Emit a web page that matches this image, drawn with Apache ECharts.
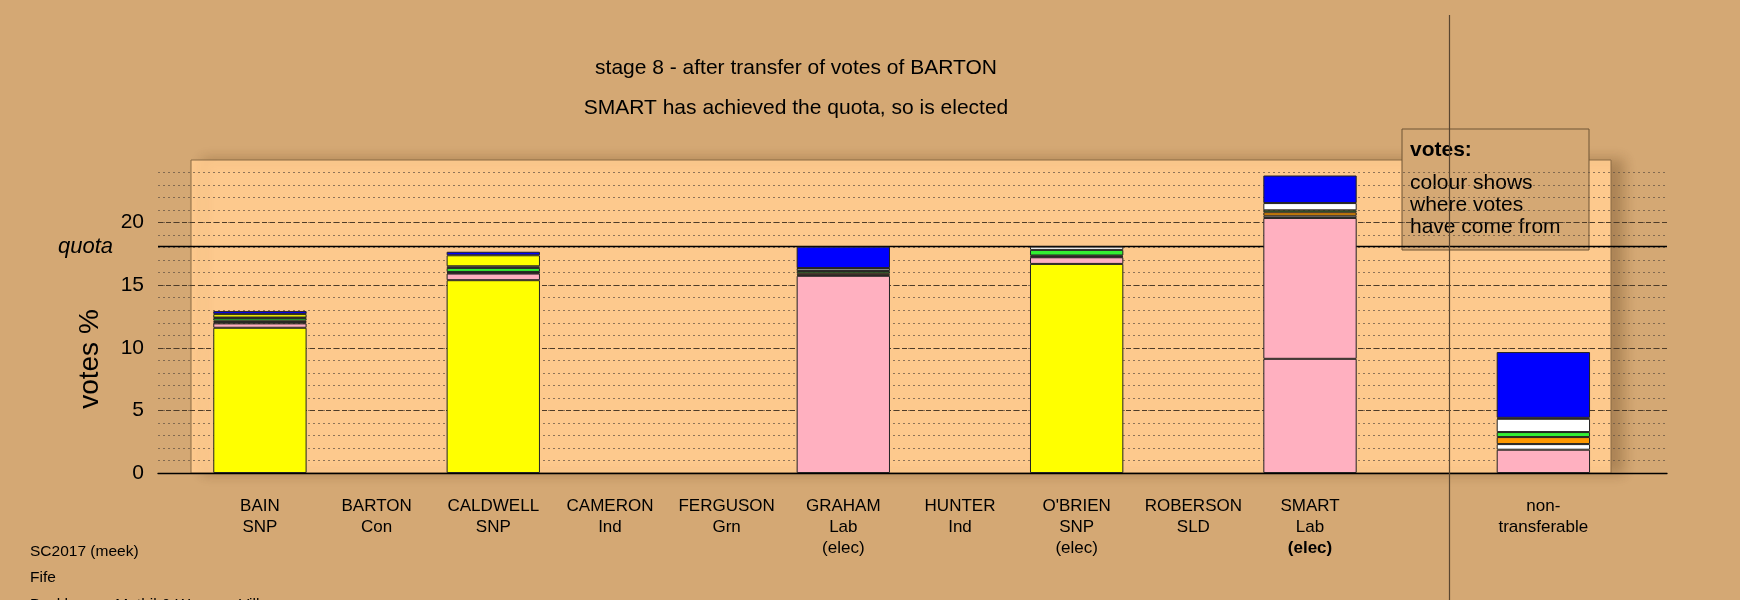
<!DOCTYPE html>
<html>
<head>
<meta charset="utf-8">
<title>SC2017 Fife - stage 8</title>
<script src="https://cdn.jsdelivr.net/npm/echarts@6/dist/echarts.min.js"></script>
<style>
  html, body { margin: 0; padding: 0; background: #d4a874; }
  #chart { width: 1740px; height: 600px; }
</style>
</head>
<body>
<div id="chart"></div>
<script>
// Candidates standing in the ward, with their parties
const candidates = ['BAIN', 'BARTON', 'CALDWELL', 'CAMERON', 'FERGUSON', 'GRAHAM', 'HUNTER', "O'BRIEN", 'ROBERSON', 'SMART'];
const parties = ['SNP', 'Con', 'SNP', 'Ind', 'Grn', 'Lab', 'Ind', 'SNP', 'SLD', 'Lab'];
const electedEarlier = ['GRAHAM', "O'BRIEN"];
const electedThisStage = ['SMART'];
// one empty column separates the candidates from the non-transferable pile
const categories = candidates.concat(['', 'non-transferable']);

const quota = 18.08;
const yTicks = [0, 5, 10, 15, 20];

// Votes % held by each column, split by where the votes came from
const firstPreferences = [11.6, 0, 15.4, 0, 0, 15.75, 0, 16.7, 0, 9.12, null, 0];
const fromGraham       = [0.35, 0, 0.53, 0, 0, 0,     0, 0.53, 0, 11.25, null, 1.86];
const fromHunter       = [0.10, 0, 0.07, 0, 0, 0.08,  0, 0.06, 0, 0.18, null, 0.45];
const fromRoberson     = [0.12, 0, 0.06, 0, 0, 0.12,  0, 0.08, 0, 0.27, null, 0.56];
const fromFerguson     = [0.20, 0, 0.32, 0, 0, 0.18,  0, 0.45, 0, 0.16, null, 0.40];
const fromCameron      = [0.05, 0, 0.13, 0, 0, 0.20,  0, 0.26, 0, 0.58, null, 1.06];
const fromOBrien       = [0.27, 0, 0.88, 0, 0, 0.04,  0, 0,    0, 0,    null, 0.08];
const fromBarton       = [0.24, 0, 0.28, 0, 0, 1.71,  0, 0,    0, 2.20, null, 5.25];

const partyColours = {
  SNP: '#ffff00', Lab: '#ffb0c0', Con: '#0000ff',
  SLD: '#ff9900', Grn: '#33ee33', Ind: '#ffffff'
};

const FONT = "'Liberation Sans', Arial, Helvetica, sans-serif";
const BG = '#d4a874';
const PANEL = '#fdc98d';

// shared horizontal mapping (category index units) for the full-width layers
const X_MIN = -0.874, X_MAX = 12.056;
const SEPARATOR_AT = 10.19;

const transferLayers = [
  { name: 'GRAHAM', data: fromGraham, party: 'Lab' },
  { name: 'HUNTER', data: fromHunter, party: 'Ind' },
  { name: 'ROBERSON', data: fromRoberson, party: 'SLD' },
  { name: 'FERGUSON', data: fromFerguson, party: 'Grn' },
  { name: 'CAMERON', data: fromCameron, party: 'Ind' },
  { name: "O'BRIEN", data: fromOBrien, party: 'SNP' },
  { name: 'BARTON', data: fromBarton, party: 'Con' }
];

const cleanValue = v => (v === null || v === 0) ? '-' : v;

const barBase = {
  type: 'bar',
  xAxisIndex: 2,
  yAxisIndex: 3,
  stack: 'votes',
  barWidth: '80%',
  z: 6,
  silent: true,
  itemStyle: { borderColor: '#222', borderWidth: 1 }
};

const barSeries = [
  Object.assign({}, barBase, {
    name: 'first preferences',
    data: firstPreferences.map((v, i) => ({
      value: cleanValue(v),
      itemStyle: { color: partyColours[parties[i]] || '#ffffff' }
    }))
  })
].concat(transferLayers.map(layer => Object.assign({}, barBase, {
  name: layer.name,
  data: layer.data.map(cleanValue),
  itemStyle: { color: partyColours[layer.party], borderColor: '#222', borderWidth: 1 }
})));

function categoryLabel(value, index) {
  if (index < candidates.length) {
    const lines = ['{n|' + value + '}', '{n|' + parties[index] + '}'];
    if (electedThisStage.indexOf(value) >= 0) lines.push('{b|(elec)}');
    else if (electedEarlier.indexOf(value) >= 0) lines.push('{n|(elec)}');
    return lines.join('\n');
  }
  if (value === 'non-transferable') return '{n|non-}\n{n|transferable}';
  return '';
}

const chart = echarts.init(document.getElementById('chart'), null, { renderer: 'canvas' });

chart.setOption({
  backgroundColor: BG,
  animation: false,
  textStyle: { fontFamily: FONT },
  grid: [
    { left: 158, right: 73, top: 160, bottom: 127 },
    {
      left: 191, right: 129, top: 160, bottom: 127, show: true,
      backgroundColor: PANEL, borderColor: '#8a6a45', borderWidth: 1,
      shadowColor: 'rgba(90,60,25,0.32)', shadowBlur: 12, shadowOffsetX: 12
    },
    { left: 201.6, right: 138.3, top: 160, bottom: 127 },
    { left: 158, right: 73, top: 15, bottom: 0 }
  ],
  xAxis: [
    {
      gridIndex: 0, type: 'value', min: X_MIN, max: X_MAX,
      axisLine: { show: true, onZero: false, lineStyle: { color: '#000', width: 1.3 } },
      axisTick: { show: false }, axisLabel: { show: false }, splitLine: { show: false }
    },
    { gridIndex: 1, type: 'value', show: false },
    {
      gridIndex: 2, type: 'category', data: categories,
      axisLine: { show: false }, axisTick: { show: false }, splitLine: { show: false },
      axisLabel: {
        interval: 0, margin: 23, color: '#000',
        formatter: categoryLabel,
        rich: {
          n: { fontSize: 17, lineHeight: 21, color: '#000', fontFamily: FONT },
          b: { fontSize: 17, lineHeight: 21, color: '#000', fontWeight: 'bold', fontFamily: FONT }
        }
      }
    },
    { gridIndex: 3, type: 'value', min: X_MIN, max: X_MAX, show: false }
  ],
  yAxis: [
    {
      // dotted guide every 1%
      gridIndex: 0, type: 'value', position: 'left', min: 0, max: 25, interval: 1,
      axisLine: { show: false }, axisTick: { show: false }, axisLabel: { show: false },
      splitLine: {
        show: true, showMinLine: false, showMaxLine: false,
        lineStyle: { color: 'rgba(95,80,65,0.7)', width: 1, type: [2, 3] }
      }
    },
    {
      // dashed guide and labels every 5%
      gridIndex: 0, type: 'value', position: 'left', min: 0, max: 25, interval: 5,
      axisLine: { show: false }, axisTick: { show: false },
      axisLabel: {
        show: true, margin: 14, fontSize: 21, color: '#000', showMaxLabel: false,
        formatter: v => (yTicks.indexOf(v) >= 0 ? String(v) : '')
      },
      splitLine: {
        show: true, showMinLine: false, showMaxLine: false,
        lineStyle: { color: '#4e3c28', width: 1, type: [5, 3] }
      }
    },
    { gridIndex: 1, type: 'value', min: 0, max: 25, show: false },
    { gridIndex: 2, type: 'value', min: 0, max: 25, show: false },
    { gridIndex: 3, type: 'value', min: 0, max: 1, show: false }
  ],
  series: [
    {
      name: 'quota',
      type: 'line', xAxisIndex: 0, yAxisIndex: 0, data: [], z: 2, silent: true,
      markLine: {
        z: 2, silent: true, symbol: ['none', 'none'],
        lineStyle: { color: '#000', width: 1.3, type: 'solid' },
        label: {
          show: true, position: 'start', distance: 45, formatter: 'quota',
          fontStyle: 'italic', fontSize: 22, color: '#000', fontFamily: FONT
        },
        data: [{ yAxis: quota }]
      }
    },
    {
      name: 'separator',
      type: 'line', xAxisIndex: 3, yAxisIndex: 4, data: [], z: 2, silent: true,
      markLine: {
        z: 2, silent: true, symbol: ['none', 'none'],
        lineStyle: { color: '#5a4630', width: 1.2, type: 'solid' },
        label: { show: false },
        data: [{ xAxis: SEPARATOR_AT }]
      }
    }
  ].concat(barSeries),
  graphic: [
    {
      type: 'text', x: 796, y: 68, z: 10, silent: true,
      style: {
        text: 'stage 8 - after transfer of votes of BARTON',
        font: '21px ' + FONT, fill: '#000',
        textAlign: 'center', textVerticalAlign: 'middle', align: 'center', verticalAlign: 'middle'
      }
    },
    {
      type: 'text', x: 796, y: 108, z: 10, silent: true,
      style: {
        text: 'SMART has achieved the quota, so is elected',
        font: '21px ' + FONT, fill: '#000',
        textAlign: 'center', textVerticalAlign: 'middle', align: 'center', verticalAlign: 'middle'
      }
    },
    {
      type: 'text', x: 90, y: 359, rotation: Math.PI / 2, z: 10, silent: true,
      style: {
        text: 'votes %', font: '28px ' + FONT, fill: '#000',
        textAlign: 'center', textVerticalAlign: 'middle', align: 'center', verticalAlign: 'middle'
      }
    },
    {
      type: 'group', x: 1402, y: 129, z: 20, silent: true,
      children: [
        {
          type: 'rect', shape: { x: 0, y: 0, width: 187, height: 121 },
          style: { fill: BG, stroke: '#6e5535', lineWidth: 1 }
        },
        {
          type: 'text', x: 8, y: 21,
          style: {
            text: 'votes:', font: 'bold 21px ' + FONT, fill: '#000',
            textAlign: 'left', textVerticalAlign: 'middle', align: 'left', verticalAlign: 'middle'
          }
        },
        {
          type: 'text', x: 8, y: 54,
          style: {
            text: 'colour shows', font: '21px ' + FONT, fill: '#000',
            textAlign: 'left', textVerticalAlign: 'middle', align: 'left', verticalAlign: 'middle'
          }
        },
        {
          type: 'text', x: 8, y: 76,
          style: {
            text: 'where votes', font: '21px ' + FONT, fill: '#000',
            textAlign: 'left', textVerticalAlign: 'middle', align: 'left', verticalAlign: 'middle'
          }
        },
        {
          type: 'text', x: 8, y: 98,
          style: {
            text: 'have come from', font: '21px ' + FONT, fill: '#000',
            textAlign: 'left', textVerticalAlign: 'middle', align: 'left', verticalAlign: 'middle'
          }
        }
      ]
    },
    {
      type: 'text', x: 30, y: 552, z: 10, silent: true,
      style: {
        text: 'SC2017 (meek)', font: '15.5px ' + FONT, fill: '#000',
        textAlign: 'left', textVerticalAlign: 'middle', align: 'left', verticalAlign: 'middle'
      }
    },
    {
      type: 'text', x: 30, y: 578, z: 10, silent: true,
      style: {
        text: 'Fife', font: '15.5px ' + FONT, fill: '#000',
        textAlign: 'left', textVerticalAlign: 'middle', align: 'left', verticalAlign: 'middle'
      }
    },
    {
      type: 'text', x: 30, y: 605, z: 10, silent: true,
      style: {
        text: 'Buckhaven, Methil & Wemyss Villages', font: '15.5px ' + FONT, fill: '#000',
        textAlign: 'left', textVerticalAlign: 'middle', align: 'left', verticalAlign: 'middle'
      }
    }
  ]
});
</script>
</body>
</html>
